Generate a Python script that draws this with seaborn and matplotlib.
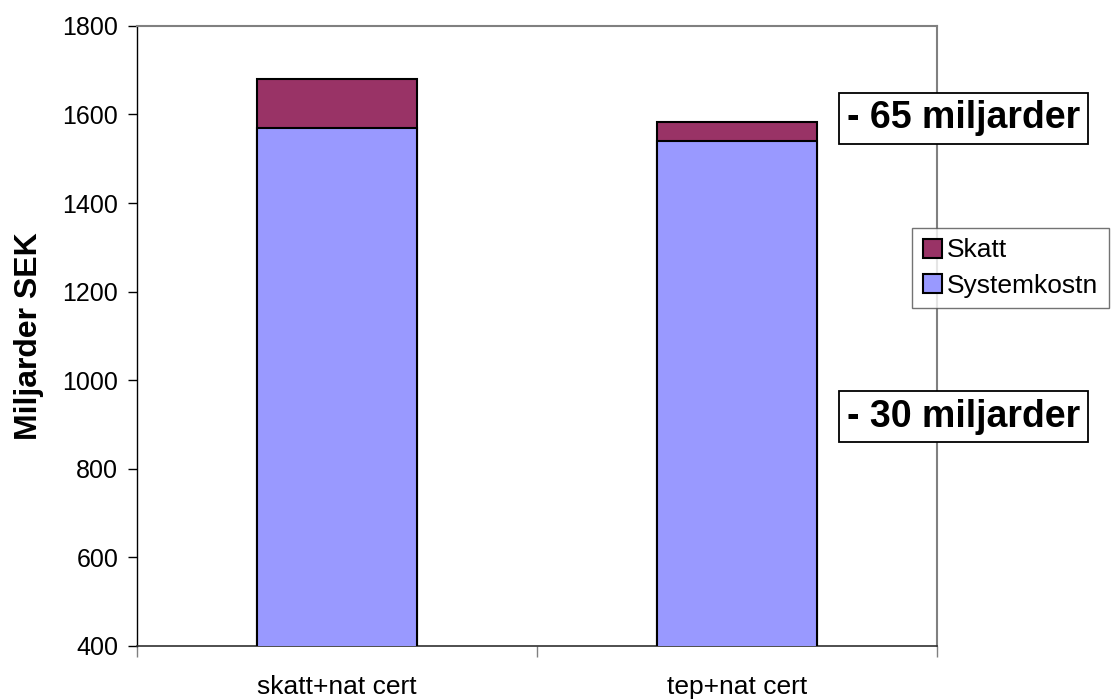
import pandas as pd
import seaborn as sns
import matplotlib.pyplot as plt
from matplotlib.patches import Patch

# Data (miljarder SEK)
scenarios = ['skatt+nat cert', 'tep+nat cert']
systemkostn = [1570, 1539]
skatt = [110, 45]
series_names = ['Skatt', 'Systemkostn']
colors = {'Skatt': '#993366', 'Systemkostn': '#9999FF'}

df = pd.DataFrame({'scenario': scenarios, 'Systemkostn': systemkostn, 'Skatt': skatt})
df['total'] = df['Systemkostn'] + df['Skatt']

sns.set_style('white')
plt.rcParams['font.family'] = ['Liberation Sans', 'DejaVu Sans']
plt.rcParams.update({'text.color': 'black', 'axes.labelcolor': 'black',
                     'xtick.color': 'black', 'ytick.color': 'black'})

fig = plt.figure(figsize=(11.13, 6.99), dpi=100)
ax = fig.add_axes([0.123, 0.076, 0.719, 0.887])

# stacked bars: total first (Skatt on top), then Systemkostn over it
sns.barplot(data=df, x='scenario', y='total', color=colors['Skatt'], width=0.4, saturation=1,
            edgecolor='black', linewidth=1.5, ax=ax, zorder=2)
sns.barplot(data=df, x='scenario', y='Systemkostn', color=colors['Systemkostn'], width=0.4,
            saturation=1, edgecolor='black', linewidth=1.5, ax=ax, zorder=3)

ax.set_ylim(400, 1800)
ax.set_xlim(-0.5, 1.5)
ax.set_yticks(range(400, 1801, 200))
ax.tick_params(axis='y', labelsize=18, length=6.5, width=1, direction='out', left=True, pad=7)

# category ticks at boundaries, labels centered
ax.set_xticks([-0.5, 0.5, 1.5])
ax.set_xticklabels([])
ax.set_xticks([0, 1], minor=True)
ax.set_xticklabels(scenarios, minor=True, fontsize=19)
ax.tick_params(axis='x', which='major', length=8, width=1, color='#808080', bottom=True)
ax.tick_params(axis='x', which='minor', length=0, pad=21)

ax.set_xlabel('')
ax.set_ylabel('Miljarder SEK', fontsize=23, fontweight='bold', labelpad=13)

for side in ['top', 'right']:
    ax.spines[side].set_color('#808080')
    ax.spines[side].set_linewidth(1.5)
ax.spines['bottom'].set_color('#303030')
ax.spines['bottom'].set_linewidth(1.2)
ax.spines['left'].set_color('black')
ax.spines['left'].set_linewidth(1)

handles = [Patch(facecolor=colors[n], edgecolor='black', linewidth=1.5) for n in series_names]
leg = fig.legend(handles, series_names, loc='upper left', bbox_to_anchor=(0.8194, 0.674),
                 fontsize=19, frameon=True, fancybox=False, edgecolor='#505050',
                 handlelength=0.72, handleheight=0.72, handletextpad=0.2, borderpad=0.4,
                 labelspacing=0.42, borderaxespad=0)
leg.get_frame().set_linewidth(1)

box = dict(boxstyle='square,pad=0.2', facecolor='white', edgecolor='black', linewidth=1.3)
fig.text(0.761, 0.8305, '- 65 miljarder', fontsize=27, fontweight='bold', va='center', bbox=box)
fig.text(0.761, 0.404, '- 30 miljarder', fontsize=27, fontweight='bold', va='center', bbox=box)

fig.savefig('out.png', dpi=100)
